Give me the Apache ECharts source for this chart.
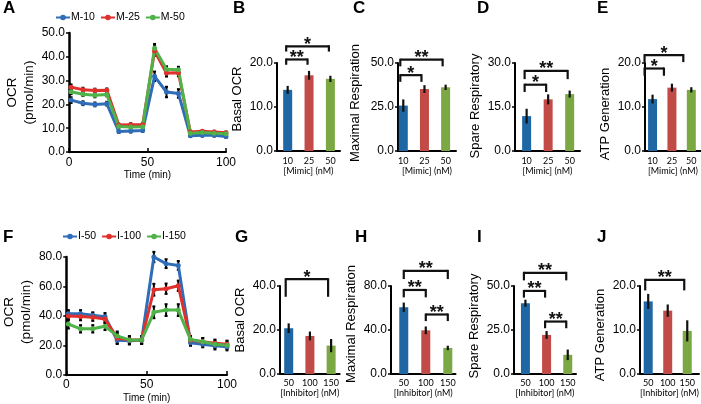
<!DOCTYPE html>
<html><head><meta charset="utf-8">
<script src="https://cdn.jsdelivr.net/npm/echarts@6/dist/echarts.min.js"></script>
<style>html,body{margin:0;padding:0;background:#fff}#c{width:701px;height:404px}</style>
</head><body><div id="c"></div>
<script>
// ---------- data ----------
const timeMin = [1.3, 8.9, 16.5, 24.1, 31.7, 39.3, 46.9, 54.5, 62.1, 69.7, 77.3, 84.9, 92.5, 100];
const timeTicks = [0, 50, 100];

const mimicNames = ['M-10', 'M-25', 'M-50'];
const ocrM10 = [21.8, 20.5, 20.0, 20.3, 8.6, 8.8, 9.0, 31.8, 25.2, 24.6, 6.8, 7.0, 7.0, 6.5];
const ocrM25 = [27.2, 26.2, 25.8, 25.9, 11.3, 11.5, 11.5, 42.4, 33.2, 33.3, 8.4, 8.7, 8.4, 8.1];
const ocrM50 = [25.3, 24.3, 23.8, 24.2, 10.7, 10.5, 10.6, 43.6, 34.8, 34.6, 7.9, 8.2, 7.9, 7.7];
const errM10 = [1.2, 0.8, 0.8, 0.8, 0.6, 0.6, 0.6, 2.0, 2.2, 1.8, 0.5, 0.5, 0.5, 0.5];
const errM25 = [1.2, 0.8, 0.8, 0.8, 0.6, 0.6, 0.6, 2.0, 1.5, 1.5, 0.5, 0.5, 0.5, 0.5];
const errM50 = [1.0, 0.8, 0.8, 0.8, 0.6, 0.6, 0.6, 1.8, 1.2, 1.2, 0.5, 0.5, 0.5, 0.5];

const inhNames = ['I-50', 'I-100', 'I-150'];
const ocrI50  = [41.5, 41.5, 40.5, 39.5, 23.5, 23.2, 23.5, 80.0, 75.5, 74.3, 21.8, 20.8, 19.8, 19.2];
const ocrI100 = [40.0, 39.6, 39.2, 38.0, 25.0, 23.8, 23.8, 57.8, 58.5, 60.5, 23.5, 22.5, 21.5, 20.8];
const ocrI150 = [34.5, 31.3, 31.3, 33.0, 26.5, 23.8, 23.8, 42.5, 44.0, 44.0, 24.0, 22.5, 20.8, 20.2];
const errI50  = [2.5, 2.5, 2.0, 2.5, 2.5, 2.5, 2.5, 3.5, 3.0, 3.0, 2.0, 2.0, 2.5, 2.5];
const errI100 = [2.5, 2.5, 2.5, 2.5, 3.5, 2.5, 2.5, 4.0, 3.5, 3.5, 2.5, 2.5, 2.5, 2.5];
const errI150 = [3.0, 2.5, 2.5, 2.5, 3.0, 2.5, 2.5, 4.0, 4.0, 4.0, 2.5, 2.5, 2.5, 2.5];

const mimicDoses = ['10', '25', '50'];
const inhDoses = ['50', '100', '150'];

const basalMimic = [13.9, 17.2, 16.4];   const basalMimicErr = [0.9, 1.0, 0.7];
const maxMimic   = [25.8, 35.2, 36.2];   const maxMimicErr   = [3.5, 2.2, 1.5];
const spareMimic = [11.9, 17.6, 19.4];   const spareMimicErr = [2.5, 1.7, 1.2];
const atpMimic   = [11.8, 14.4, 13.9];   const atpMimicErr   = [1.0, 0.9, 0.6];
const basalInh   = [20.8, 17.3, 12.9];   const basalInhErr   = [2.2, 2.0, 3.0];
const maxInh     = [60.7, 39.7, 23.7];   const maxInhErr     = [4.2, 3.5, 2.0];
const spareInh   = [40.2, 22.2, 10.9];   const spareInhErr   = [2.0, 2.2, 3.0];
const atpInh     = [16.5, 14.4, 9.8];    const atpInhErr     = [1.7, 1.4, 2.4];

// significance brackets: [from, to, bracket top, leg end, stars]
const sigBasalMimic = [[0, 1, 20.8, 19.6, '**'], [0, 2, 23.8, 22.6, '*']];
const sigMaxMimic   = [[0, 1, 43.1, 39.3, '*'], [0, 2, 51.9, 48.1, '**']];
const sigSpareMimic = [[0, 1, 22.6, 20.1, '*'], [0, 2, 27.3, 24.5, '**']];
const sigAtpMimic   = [[0, 1, 18.75, 17.1, '*'], [0, 2, 21.8, 20.2, '*']];
const sigBasalInh   = [[0, 2, 43.1, 35.1, '*']];
const sigMaxInh     = [[0, 1, 76.4, 69.7, '**'], [1, 2, 54.1, 48.1, '**'], [0, 2, 93.8, 86.3, '**']];
const sigSpareInh   = [[0, 1, 47.2, 43.4, '**'], [1, 2, 29.8, 26.0, '**'], [0, 2, 57.5, 53.2, '**']];
const sigAtpInh     = [[0, 2, 21.4, 19.0, '**']];

// ---------- styles ----------
const FONT = '"Liberation Sans", Arial, sans-serif';
const SMALL = 'Lato, "Liberation Sans", sans-serif';
const lineColors = ['#2f6db8', '#e0302b', '#4fb34a'];
const barColors = ['#1f67a4', '#c24a47', '#7ba843'];

const grid = [], xAxis = [], yAxis = [], series = [], legend = [];

function yNameStyle(size, shift) {
  const pad = shift >= 0 ? [0, 0, 0, 2 * shift] : [0, -2 * shift, 0, 0];
  return { color: '#000', fontSize: size, fontFamily: FONT, padding: pad, lineHeight: 17 };
}

function lineErr(params, api) {
  const x = api.value(0), y = api.value(1), e = api.value(2);
  const t = api.coord([x, y + e]), b = api.coord([x, y - e]);
  const st = { stroke: '#000', lineWidth: 2 };
  return { type: 'group', children: [
    { type: 'line', shape: { x1: t[0], y1: t[1], x2: b[0], y2: b[1] }, style: st },
    { type: 'line', shape: { x1: t[0] - 1.5, y1: t[1], x2: t[0] + 1.5, y2: t[1] }, style: st },
    { type: 'line', shape: { x1: b[0] - 1.5, y1: b[1], x2: b[0] + 1.5, y2: b[1] }, style: st }
  ]};
}
function barErr(params, api) {
  const x = api.value(0), y = api.value(1), e = api.value(2);
  const t = api.coord([x, y + e]), b = api.coord([x, y - e]);
  return { type: 'line', shape: { x1: t[0], y1: t[1], x2: b[0], y2: b[1] }, style: { stroke: '#111', lineWidth: 2.2 } };
}

function linePanel(p) {
  const gi = grid.length;
  grid.push({ left: p.left, top: p.top, width: p.width, height: p.height });
  xAxis.push({ type: 'value', gridIndex: gi, min: 0, max: 100, interval: 50,
    axisLine: { show: true, onZero: false, lineStyle: { color: '#000', width: 2 } },
    axisTick: { show: true, inside: true, length: 4, lineStyle: { color: '#000', width: 1.5 }, customValues: timeTicks },
    axisLabel: { color: '#000', fontSize: 12, fontFamily: FONT, margin: p.xMargin, customValues: timeTicks },
    splitLine: { show: false },
    name: 'Time (min)', nameLocation: 'middle', nameGap: p.xNameGap,
    nameTextStyle: { color: '#000', fontSize: 10, fontFamily: FONT } });
  yAxis.push({ type: 'value', gridIndex: gi, min: 0, max: p.ymax, interval: p.yInt,
    axisLine: { show: true, onZero: false, lineStyle: { color: '#000', width: 2.5 } },
    axisTick: { show: true, length: 3, lineStyle: { color: '#000', width: 1.5 } },
    axisLabel: { color: '#000', fontSize: 12, fontFamily: FONT, margin: 4, formatter: v => v.toFixed(1) },
    splitLine: { show: false },
    name: 'OCR\n(pmol/min)', nameLocation: 'middle', nameGap: p.yNameGap,
    nameTextStyle: yNameStyle(13.5, p.yShift) });
  p.lines.forEach((s, k) => {
    series.push({ type: 'custom', name: 'err ' + s.name, xAxisIndex: gi, yAxisIndex: gi, z: 2, clip: false, silent: true,
      data: timeMin.map((t, i) => [t, s.values[i], s.errs[i]]), renderItem: lineErr });
    series.push({ type: 'line', name: s.name, xAxisIndex: gi, yAxisIndex: gi, z: 3,
      data: timeMin.map((t, i) => [t, s.values[i]]),
      symbol: 'circle', symbolSize: 5, showSymbol: true, color: lineColors[k],
      lineStyle: { width: 3, color: lineColors[k] }, itemStyle: { color: lineColors[k] } });
  });
  legend.push({ data: p.lines.map(s => s.name), left: p.legLeft, top: p.legTop, orient: 'horizontal',
    itemWidth: 14, itemHeight: 7, itemGap: 5, padding: 0,
    textStyle: { color: '#000', fontSize: 10.5, fontFamily: FONT, padding: [0, 0, 0, -4] } });
}

function barPanel(p) {
  const gi = grid.length;
  grid.push({ left: p.left, top: p.top, width: p.width, height: p.height });
  xAxis.push({ type: 'value', gridIndex: gi, min: p.xmin, max: p.xmax,
    axisLine: { show: true, onZero: false, lineStyle: { color: '#000', width: 2 } },
    axisTick: { show: false },
    axisLabel: { color: '#000', fontSize: 9, fontFamily: SMALL, margin: p.xMargin,
      customValues: [0, 1, 2], formatter: v => p.cats[Math.round(v)] },
    splitLine: { show: false },
    name: p.xName, nameLocation: 'middle', nameGap: p.xNameGap,
    nameTextStyle: { color: '#000', fontSize: 9, fontFamily: SMALL } });
  yAxis.push({ type: 'value', gridIndex: gi, min: 0, max: p.ymax, interval: p.ymax / 2,
    axisLine: { show: true, onZero: false, lineStyle: { color: '#000', width: 2 } },
    axisTick: { show: true, length: 3, lineStyle: { color: '#000', width: 1.5 } },
    axisLabel: { color: '#000', fontSize: 12, fontFamily: FONT, margin: 4, formatter: v => v.toFixed(1) },
    splitLine: { show: false },
    name: p.yName, nameLocation: 'middle', nameGap: p.yNameGap,
    nameTextStyle: yNameStyle(13, p.yShift) });
  series.push({ type: 'bar', xAxisIndex: gi, yAxisIndex: gi, barWidth: 9, z: 2,
    data: p.vals.map((v, i) => ({ value: [i, v], itemStyle: { color: barColors[i] } })) });
  series.push({ type: 'custom', xAxisIndex: gi, yAxisIndex: gi, z: 3, clip: false, silent: true,
    data: p.vals.map((v, i) => [i, v, p.errs[i]]), renderItem: barErr });
  const br = p.sig;
  series.push({ type: 'custom', xAxisIndex: gi, yAxisIndex: gi, z: 4, clip: false, silent: true,
    data: br.map(b => [b[0], b[2]]),
    renderItem: (params, api) => {
      const b = br[params.dataIndex];
      const off = p.brOff;
      const L = api.coord([b[0], b[2]]), R = api.coord([b[1], b[2]]);
      const Ld = api.coord([b[0], b[3]]), Rd = api.coord([b[1], b[3]]);
      const st = { stroke: '#111', lineWidth: 2.2 };
      return { type: 'group', children: [
        { type: 'line', shape: { x1: L[0] + off, y1: L[1], x2: R[0] + off, y2: R[1] }, style: st },
        { type: 'line', shape: { x1: L[0] + off, y1: L[1] - 1, x2: Ld[0] + off, y2: Ld[1] }, style: st },
        { type: 'line', shape: { x1: R[0] + off, y1: R[1] - 1, x2: Rd[0] + off, y2: Rd[1] }, style: st },
        { type: 'text', style: { text: b[4], x: (L[0] + R[0]) / 2 + off, y: L[1] - 1.5, align: 'center', verticalAlign: 'middle',
          fontSize: 18, fontWeight: 'bold', fontFamily: FONT, fill: '#111' } }
      ]};
    } });
}

linePanel({ left: 69, top: 33, width: 157, height: 119, ymax: 50, yInt: 10, xMargin: 5, xNameGap: 18, yNameGap: 31, yShift: 0,
  legLeft: 55, legTop: 12,
  lines: [{ name: mimicNames[0], values: ocrM10, errs: errM10 }, { name: mimicNames[1], values: ocrM25, errs: errM25 }, { name: mimicNames[2], values: ocrM50, errs: errM50 }] });
linePanel({ left: 65, top: 257, width: 162, height: 118, ymax: 80, yInt: 20, xMargin: 4, xNameGap: 18, yNameGap: 28, yShift: 4,
  legLeft: 62, legTop: 231,
  lines: [{ name: inhNames[0], values: ocrI50, errs: errI50 }, { name: inhNames[1], values: ocrI100, errs: errI100 }, { name: inhNames[2], values: ocrI150, errs: errI150 }] });

const topRow = { top: 63, height: 88, xMargin: 6, xNameGap: 16, cats: mimicDoses, xName: '[Mimic] (nM)' };
const botRow = { top: 286, height: 88, xMargin: 5, xNameGap: 14, cats: inhDoses, xName: '[Inhibitor] (nM)' };

barPanel(Object.assign({}, topRow, { left: 277, width: 63, xmin: -0.5, xmax: 2.45, ymax: 20, vals: basalMimic, errs: basalMimicErr, sig: sigBasalMimic, brOff: -1.5, yName: 'Basal OCR', yNameGap: 28, yShift: 8 }));
barPanel(Object.assign({}, topRow, { left: 398, width: 58, xmin: -0.25, xmax: 2.49, ymax: 50, vals: maxMimic, errs: maxMimicErr, sig: sigMaxMimic, brOff: -3, yName: 'Maximal Respiration', yNameGap: 34, yShift: 4 }));
barPanel(Object.assign({}, topRow, { left: 515, width: 65, xmin: -0.54, xmax: 2.48, ymax: 30, vals: spareMimic, errs: spareMimicErr, sig: sigSpareMimic, brOff: -2, yName: 'Spare Respiratory', yNameGap: 28, yShift: 1 }));
barPanel(Object.assign({}, topRow, { left: 645, width: 61, xmin: -0.39, xmax: 2.5, ymax: 20, vals: atpMimic, errs: atpMimicErr, sig: sigAtpMimic, brOff: -8, yName: 'ATP Generation', yNameGap: 25, yShift: -7 }));
barPanel(Object.assign({}, botRow, { left: 280, width: 59.6, xmin: -0.41, xmax: 2.4, ymax: 40, vals: basalInh, errs: basalInhErr, sig: sigBasalInh, brOff: -3, yName: 'Basal OCR', yNameGap: 31, yShift: 10 }));
barPanel(Object.assign({}, botRow, { left: 391, width: 64.5, xmin: -0.58, xmax: 2.35, ymax: 80, vals: maxInh, errs: maxInhErr, sig: sigMaxInh, brOff: 0, yName: 'Maximal Respiration', yNameGap: 24, yShift: 6 }));
barPanel(Object.assign({}, botRow, { left: 514, width: 62, xmin: -0.54, xmax: 2.39, ymax: 50, vals: spareInh, errs: spareInhErr, sig: sigSpareInh, brOff: -1.5, yName: 'Spare Respiratory', yNameGap: 27, yShift: 4 }));
barPanel(Object.assign({}, botRow, { left: 640, width: 62.8, xmin: -0.42, xmax: 2.6, ymax: 20, vals: atpInh, errs: atpInhErr, sig: sigAtpInh, brOff: -3, yName: 'ATP Generation', yNameGap: 26, yShift: -5 }));

const letters = [['A', 3, 0], ['B', 233, 0], ['C', 353, 0], ['D', 477, 0], ['E', 597, 0],
                 ['F', 3, 229], ['G', 235, 229], ['H', 355, 229], ['I', 477, 229], ['J', 597, 229]];
const title = letters.map(l => ({ text: l[0], left: l[1], top: l[2], padding: 0,
  textStyle: { fontSize: 17, fontWeight: 'bold', fontFamily: FONT, color: '#000' } }));

const chart = echarts.init(document.getElementById('c'));
chart.setOption({ animation: false, backgroundColor: '#fff', title, grid, xAxis, yAxis, legend, series });
</script>
</body></html>
